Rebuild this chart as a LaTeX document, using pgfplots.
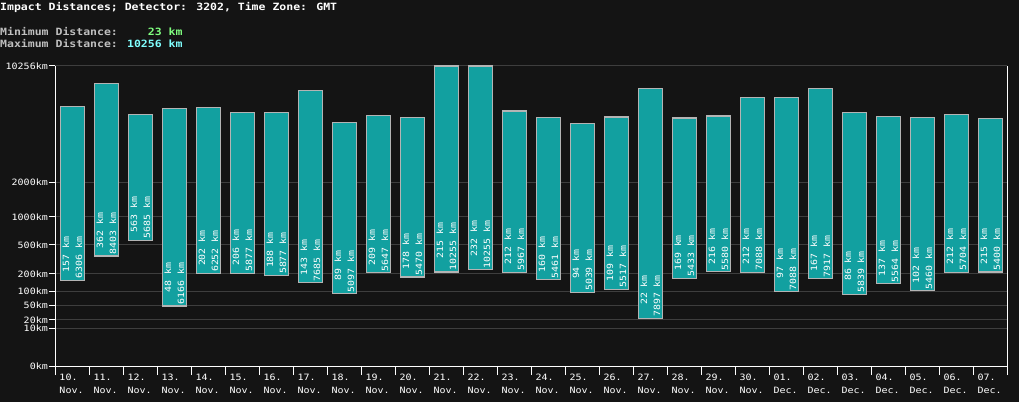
\documentclass[border=0pt]{standalone}
\usepackage{fontspec}
\usepackage{pgfplots}
\usepackage{pgfplotstable}
\pgfplotsset{compat=1.18}

\newfontfamily\mono[FakeStretch=1.15]{DejaVu Sans Mono}

\definecolor{bg}{RGB}{20,20,20}
\definecolor{barfill}{RGB}{18,160,160}
\definecolor{barline}{RGB}{180,180,180}
\definecolor{gridc}{RGB}{62,62,62}
\definecolor{lgray}{RGB}{192,192,192}
\definecolor{lgreen}{RGB}{128,255,128}
\definecolor{lcyan}{RGB}{128,255,255}

% one row per day: lowest and highest impact distance (km)
\pgfplotstableread{
x lo hi
0 157 6306
1 362 8403
2 563 5685
3 48 6166
4 202 6252
5 206 5877
6 188 5877
7 143 7685
8 89 5097
9 209 5647
10 178 5470
11 215 10255
12 232 10255
13 212 5967
14 160 5461
15 94 5039
16 109 5517
17 22 7897
18 169 5433
19 216 5580
20 212 7088
21 97 7088
22 167 7917
23 86 5839
24 137 5564
25 102 5460
26 212 5704
27 215 5400
}\impacts

\newcommand\km[1]{\pgfmathprintnumber[fixed, precision=0, 1000 sep={}, assume math mode=true]{#1}~km}

\begin{document}
\begin{tikzpicture}
\fill[bg] (0pt,0pt) rectangle (1019pt,402pt);
\useasboundingbox (0pt,0pt) rectangle (1019pt,402pt);

\node[anchor=base west, inner sep=0pt, text=white,
      font=\mono\bfseries\fontsize{10}{12}\selectfont] at (0pt,391.3pt)
  {Impact Distances; Detector: 3202, Time Zone: GMT};
\node[anchor=base west, inner sep=0pt,
      font=\mono\bfseries\fontsize{10}{12}\selectfont] at (0pt,366.3pt)
  {\textcolor{lgray}{Minimum Distance:} \textcolor{lgreen}{\hphantom{102}23 km}};
\node[anchor=base west, inner sep=0pt,
      font=\mono\bfseries\fontsize{10}{12}\selectfont] at (0pt,354.7pt)
  {\textcolor{lgray}{Maximum Distance:} \textcolor{lcyan}{10256 km}};

\begin{axis}[
    at={(55.3pt,36pt)}, anchor=south west,
    scale only axis, width=952pt, height=300pt,
    xmin=-0.5, xmax=27.5, ymin=0, ymax=10256,
    y coord trafo/.code={\pgfmathparse{max(#1,0.000001)^0.3}},
    clip=false,
    axis x line*=bottom, axis y line*=left,
    axis line style={white, line width=1pt},
    tick align=outside,
    xtick={-0.5,0.5,...,27.5},
    xticklabels={{10.\\Nov.},{11.\\Nov.},{12.\\Nov.},{13.\\Nov.},{14.\\Nov.},
      {15.\\Nov.},{16.\\Nov.},{17.\\Nov.},{18.\\Nov.},{19.\\Nov.},{20.\\Nov.},
      {21.\\Nov.},{22.\\Nov.},{23.\\Nov.},{24.\\Nov.},{25.\\Nov.},{26.\\Nov.},
      {27.\\Nov.},{28.\\Nov.},{29.\\Nov.},{30.\\Nov.},{01.\\Dec.},{02.\\Dec.},
      {03.\\Dec.},{04.\\Dec.},{05.\\Dec.},{06.\\Dec.},{07.\\Dec.},{}},
    ytick={0,10,20,50,100,200,500,1000,2000,10256},
    yticklabels={0km,10km,20km,50km,100km,200km,500km,1000km,2000km,10256km},
    xtick style={white, line width=1pt, /pgfplots/major tick length=9pt},
    ytick style={white, line width=1pt, /pgfplots/major tick length=6pt},
    ymajorgrids,
    major grid style={gridc, line width=1pt},
    xticklabel style={anchor=north west, align=left, text=white, inner sep=0pt,
      xshift=4pt, yshift=-3.5pt, font=\mono\fontsize{8.7}{12.7}\selectfont},
    yticklabel style={text=white, inner sep=0pt, xshift=-3pt,
      font=\mono\fontsize{8.7}{10}\selectfont},
]
\pgfplotsinvokeforeach{0,...,27}{
  \pgfplotstablegetelem{#1}{lo}\of\impacts \let\barlo\pgfplotsretval
  \pgfplotstablegetelem{#1}{hi}\of\impacts \let\barhi\pgfplotsretval
  \pgfmathsetmacro\xa{#1-0.353}
  \pgfmathsetmacro\xb{#1+0.353}
  \edef\drawbar{\noexpand\addplot[fill=barfill, draw=barline, line width=1.2pt]
    coordinates {(\xa,\barlo) (\xb,\barlo) (\xb,\barhi) (\xa,\barhi)} -- cycle;}
  \drawbar
}
\addplot[draw=none, mark=none,
    visualization depends on={\thisrow{lo}\as\loval},
    visualization depends on={\thisrow{hi}\as\hival},
    nodes near coords={\km{\loval}\\\km{\hival}},
    every node near coord/.append style={rotate=90, anchor=west, align=right,
      text=white, inner sep=1.5pt, font=\mono\fontsize{8.6}{13}\selectfont}]
  table[x=x, y=lo]{\impacts};
\draw[white, line width=1pt] (rel axis cs:1,0) -- (rel axis cs:1,1);
\end{axis}
\end{tikzpicture}
\end{document}
